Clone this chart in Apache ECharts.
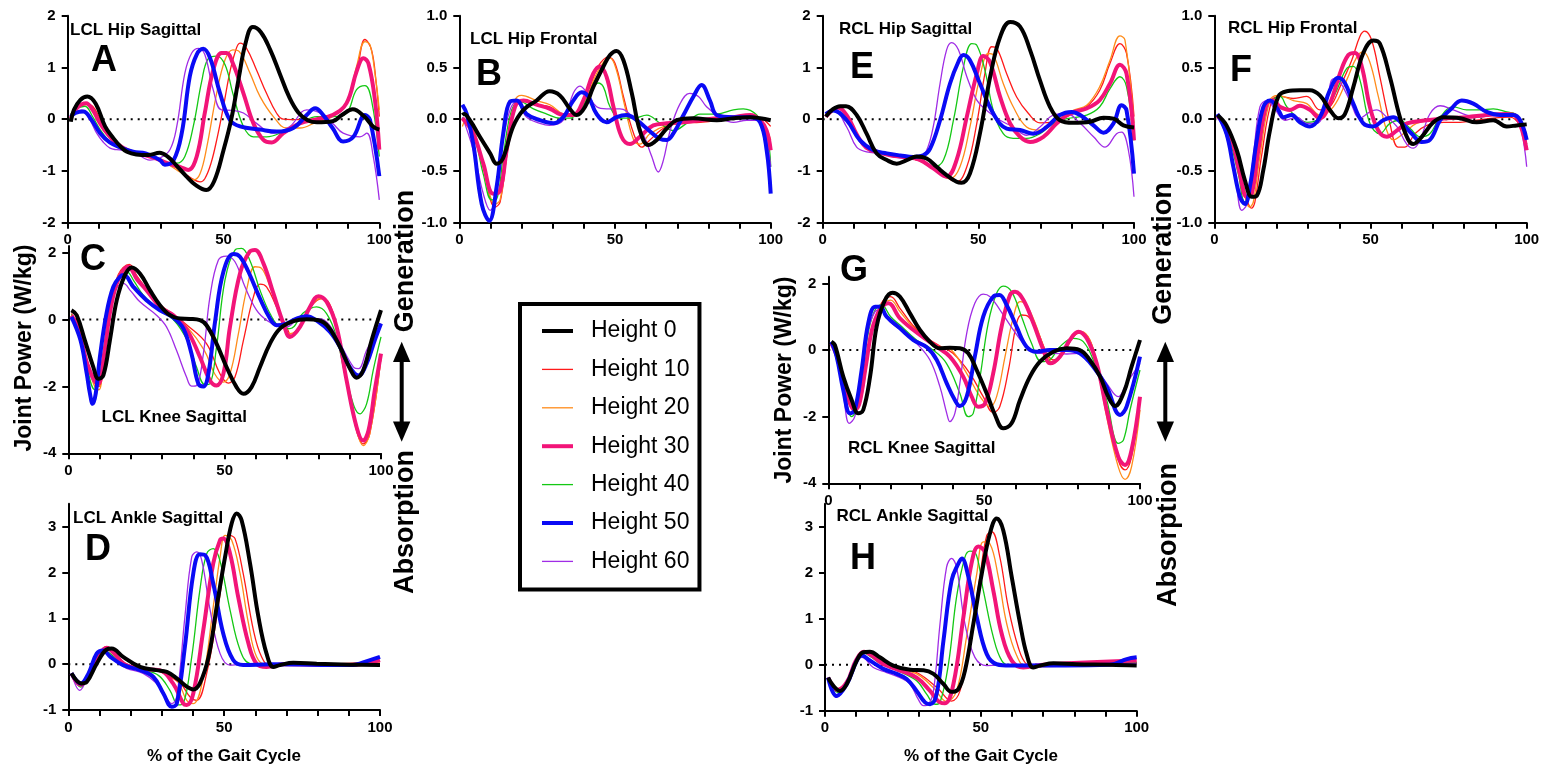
<!DOCTYPE html>
<html>
<head>
<meta charset="utf-8">
<script src="https://cdn.jsdelivr.net/npm/echarts@6/dist/echarts.min.js"></script>
<style>
html,body{margin:0;padding:0;background:#fff;}
#c{width:1547px;height:769px;}
</style>
</head>
<body>
<div id="c"></div>
<script>
// ---------- DATA ----------
const SERIES_NAMES = ['Height 0','Height 10','Height 20','Height 30','Height 40','Height 50','Height 60'];
const X_TICKS = [0,10,20,30,40,50,60,70,80,90,100];
const X_LABELS = [0,50,100];
const Y_TICKS_HIP_SAG = [-2,-1,0,1,2];
const Y_TICKS_HIP_FRONT = [-1,-0.5,0,0.5,1];
const Y_TICKS_KNEE = [-4,-2,0,2];
const Y_TICKS_ANKLE = [-1,0,1,2,3];
const PANEL_TITLES = ['LCL Hip Sagittal','LCL Hip Frontal','LCL Knee Sagittal','LCL Ankle Sagittal','RCL Hip Sagittal','RCL Hip Frontal','RCL Knee Sagittal','RCL Ankle Sagittal'];
const PANEL_LETTERS = ['A','B','C','D','E','F','G','H'];

// Panel A - LCL Hip Sagittal
const A_H0 = [[1,-0.05],[2,0.18],[4,0.37],[6.3,0.44],[9,0.3],[12,-0.14],[14.7,-0.37],[17,-0.53],[19,-0.63],[22,-0.68],[26,-0.69],[29.5,-0.65],[32,-0.72],[35,-0.9],[38,-1.1],[41,-1.27],[44.5,-1.37],[47,-1.2],[50,-0.6],[52.5,0.0],[55,0.83],[57,1.45],[59.4,1.78],[62,1.68],[65,1.34],[68,0.89],[71,0.44],[74,0.13],[77,-0.02],[80,-0.06],[85,-0.04],[88,0.08],[91.5,0.19],[95,0.06],[98,-0.14],[100,-0.2]];
const A_H10 = [[1,0.0],[3,0.2],[6,0.3],[8,0.25],[10,0.05],[13,-0.3],[16,-0.5],[20,-0.62],[24,-0.68],[28,-0.75],[32,-0.85],[36,-0.98],[40,-1.15],[42.5,-1.21],[44,-1.15],[46,-0.85],[48,-0.35],[50,0.25],[52,0.9],[53.5,1.25],[55.3,1.47],[57.4,1.37],[60.6,0.95],[63.8,0.5],[67,0.12],[69.2,0.0],[75,-0.01],[80,0.0],[85,0.08],[89.5,0.31],[92.7,0.89],[95.4,1.54],[97.5,1.34],[99,0.7],[100,0.05]];
const A_H20 = [[1,0.0],[3,0.2],[6,0.28],[8,0.2],[10,0.0],[13,-0.33],[16,-0.52],[20,-0.63],[24,-0.68],[28,-0.76],[32,-0.87],[36,-1.02],[38.5,-1.12],[40.5,-1.17],[42.5,-1.05],[44.6,-0.55],[47.8,0.5],[50.5,1.15],[53,1.34],[55,1.31],[58.5,0.89],[61.7,0.44],[66,0.05],[70.3,-0.17],[74.5,-0.17],[80,-0.05],[85,0.05],[89.5,0.31],[92.7,1.02],[95.4,1.5],[97,1.44],[98.6,0.89],[100,0.18]];
const A_H30 = [[1,0.02],[3,0.22],[5.9,0.31],[8,0.18],[10.4,-0.08],[13,-0.3],[16,-0.48],[20,-0.62],[24,-0.68],[28,-0.75],[32,-0.85],[36,-0.92],[38.7,-0.98],[41.4,-0.72],[44,0.12],[46.7,0.95],[49.4,1.28],[51,1.28],[53,1.08],[56.4,0.5],[59.6,-0.08],[62.8,-0.4],[65.5,-0.45],[69.2,-0.27],[74.5,-0.08],[80,0.0],[85,0.08],[89.5,0.31],[92.7,0.92],[94.9,1.18],[96.5,1.08],[98.6,0.37],[100,-0.59]];
const A_H40 = [[1,0.1],[2.5,0.2],[5.5,0.25],[8,0.05],[10.4,-0.2],[13,-0.4],[15.7,-0.53],[20,-0.63],[24,-0.68],[27.5,-0.75],[31.8,-0.85],[35,-0.85],[37.6,-0.72],[40.3,-0.14],[43,0.73],[45,1.16],[47.8,1.22],[50.5,1.05],[53,0.5],[56.4,-0.14],[59.6,-0.34],[63.8,-0.34],[69.2,-0.24],[74.5,-0.08],[80,0.05],[85.2,0.05],[89.5,0.12],[92.7,0.57],[95.4,0.65],[97.5,0.37],[100,-0.72]];
const A_H50 = [[1,0.05],[2.5,0.12],[5,0.15],[7.5,0.0],[10.4,-0.27],[13.5,-0.45],[17,-0.55],[21,-0.63],[25,-0.66],[29.6,-0.79],[31.2,-0.88],[34,-0.79],[36.6,-0.27],[39.2,0.83],[41.4,1.25],[43.5,1.36],[45.7,1.18],[48.9,0.5],[52,-0.01],[55.3,-0.14],[61.7,-0.2],[67,-0.24],[72.4,-0.17],[76.7,0.08],[79.4,0.21],[82,0.08],[85,-0.17],[88.4,-0.43],[91.7,-0.34],[95.4,0.08],[97,-0.01],[100,-1.1]];
const A_H60 = [[1,0.0],[2,0.12],[4.5,0.18],[7,0.0],[9.3,-0.27],[11.5,-0.45],[13.6,-0.56],[15.7,-0.59],[21,-0.63],[26.4,-0.79],[29.6,-0.75],[32.8,-0.59],[35,-0.14],[37.6,0.89],[39.8,1.28],[42,1.37],[44,1.25],[46.7,0.57],[49.4,0.18],[53,0.17],[56.4,0.12],[60.6,-0.08],[66,-0.27],[71.3,-0.14],[76.7,0.18],[81,0.12],[85,-0.08],[88.4,-0.27],[93.8,-0.34],[96,-0.27],[98,-0.7],[100,-1.56]];

// Panel B - LCL Hip Frontal
const B_H0 = [[1,0.04],[1.5,0.05],[3.4,-0.01],[6.6,-0.17],[9.9,-0.33],[12,-0.43],[14,-0.38],[17.3,-0.07],[20.6,0.09],[24.8,0.18],[29,0.27],[32.3,0.23],[35.5,0.1],[37.7,0.04],[40.4,0.12],[43,0.31],[46.3,0.51],[48.4,0.62],[50.5,0.66],[52.7,0.57],[55.4,0.25],[58,-0.11],[60.7,-0.25],[63.4,-0.2],[66.6,-0.09],[69.8,-0.01],[75,0.01],[82.7,-0.01],[88,0.01],[93.4,0.02],[96.6,0.01],[100,-0.01]];
const B_H10 = [[1,-0.01],[4.5,-0.12],[7.7,-0.46],[11.5,-0.85],[13.1,-0.8],[15.2,-0.36],[17.9,0.12],[20.6,0.18],[24.8,0.14],[29.1,0.12],[33.4,0.04],[36.6,0.04],[41,0.25],[44.6,0.51],[47.9,0.6],[50,0.54],[52.7,0.22],[56,-0.14],[58.6,-0.27],[61.2,-0.2],[66.6,-0.07],[72,-0.04],[77.3,-0.03],[82.7,-0.01],[88,0.02],[93.4,0.04],[97,0.01],[100,-0.07]];
const B_H20 = [[1,-0.07],[2.4,0.0],[4.5,-0.08],[7.7,-0.45],[11.5,-0.82],[13.1,-0.78],[15.2,-0.36],[17.9,0.18],[20,0.23],[24.8,0.18],[29.1,0.14],[33.4,0.05],[36.6,0.04],[40.4,0.18],[43.6,0.41],[46.3,0.55],[48.4,0.59],[50.5,0.47],[53.2,0.12],[56,-0.2],[58,-0.24],[61.2,-0.14],[66.6,-0.06],[72,-0.04],[77.3,-0.01],[82.7,0.01],[88,0.02],[93.4,0.04],[97,-0.01],[100,-0.2]];
const B_H30 = [[1,0.01],[4.5,-0.14],[7.7,-0.43],[10.9,-0.72],[13.1,-0.69],[15.2,-0.3],[17.9,0.12],[20.6,0.18],[24.8,0.14],[29.1,0.1],[33.4,0.04],[36.6,0.04],[39.8,0.18],[43,0.44],[45.2,0.51],[47.3,0.41],[49.5,0.12],[52.1,-0.17],[54.8,-0.24],[58,-0.17],[62.3,-0.06],[66.6,-0.04],[72,-0.03],[77.3,-0.01],[82.7,0.01],[88,0.02],[93.4,0.04],[96.6,-0.01],[98.7,-0.11],[100,-0.3]];
const B_H40 = [[1,0.01],[4.5,-0.14],[7.7,-0.53],[10.4,-0.78],[12,-0.77],[14.1,-0.36],[16.8,0.09],[19.5,0.17],[23.8,0.1],[28.1,0.05],[32.3,0.01],[35.5,0.01],[38.8,0.09],[42,0.25],[44.6,0.35],[46.3,0.31],[48.4,0.12],[51.6,0.01],[56,0.01],[60.2,0.04],[64.5,-0.04],[68.7,-0.11],[73,-0.04],[77.3,0.05],[82.7,0.05],[88,0.09],[91.2,0.1],[95.5,0.04],[98.7,-0.14],[100,-0.46]];
const B_H50 = [[1,0.14],[2.4,0.05],[4.5,-0.24],[7.2,-0.82],[9.6,-0.98],[12,-0.65],[14.1,-0.14],[16.3,0.17],[18.4,0.18],[21.6,0.05],[25.9,-0.01],[30.2,-0.04],[33.4,0.02],[36.6,0.18],[39.3,0.26],[41.4,0.22],[44.1,0.05],[47.3,-0.03],[50.5,0.02],[53.7,0.04],[57,-0.01],[60.2,-0.09],[64.5,-0.19],[66.6,-0.2],[68.7,-0.14],[72,0.04],[75.2,0.22],[77.8,0.33],[80.5,0.18],[82.7,0.04],[88,0.02],[93.4,0.02],[96.6,-0.03],[98.7,-0.3],[100,-0.72]];
const B_H60 = [[1,0.02],[4.5,-0.3],[7.7,-0.72],[9.9,-0.88],[12,-0.72],[14.1,-0.2],[16.3,0.09],[18.4,0.17],[21.6,0.02],[25.9,-0.04],[29,-0.06],[33.4,-0.01],[36.6,0.25],[38.7,0.32],[40.9,0.26],[44.1,0.12],[47.3,0.1],[51.6,0.1],[55.9,0.01],[59,-0.14],[61.8,-0.36],[63.9,-0.51],[65.5,-0.4],[67.7,-0.11],[70.9,0.15],[74,0.25],[76.8,0.22],[79.4,0.12],[83.7,0.02],[88,-0.03],[92.3,-0.01],[96.6,-0.01],[98.7,-0.2],[100,-0.46]];

// Panel C - LCL Knee Sagittal
const C_H0 = [[1,0.28],[2.7,0.13],[5.3,-0.62],[8,-1.42],[9.6,-1.77],[11.2,-1.67],[13.3,-0.62],[15.5,0.58],[18.1,1.33],[20.3,1.56],[22.9,1.38],[26.1,0.88],[29.3,0.43],[32.5,0.13],[35.7,0.03],[38.9,0.02],[42.1,-0.02],[44.2,-0.17],[47.4,-0.72],[50.6,-1.42],[53.8,-2.02],[56,-2.22],[58.6,-2.02],[61.3,-1.42],[64.5,-0.72],[67.7,-0.27],[72,-0.05],[76.2,0.01],[80,-0.02],[83.2,-0.22],[86.9,-0.82],[90.1,-1.47],[92.2,-1.74],[94.3,-1.52],[97,-0.62],[100,0.28]];
const C_H10 = [[1,0.18],[3.2,-0.25],[6,-1.3],[8.7,-1.95],[9.8,-2.0],[11.5,-1.0],[13.5,0.4],[16,1.35],[19.5,1.65],[22,1.3],[25,0.92],[29.3,0.45],[33.6,0.15],[38,-0.17],[44.2,-0.72],[48.5,-1.62],[51.2,-1.9],[53.3,-1.72],[56,-0.62],[59.2,0.68],[61.3,1.06],[63.4,0.98],[66.6,0.38],[69.8,-0.22],[71.5,-0.5],[74.5,-0.12],[77.5,0.38],[81,0.63],[83.5,0.48],[85.8,-0.22],[89,-1.82],[92.2,-3.32],[94.3,-3.72],[96.4,-3.42],[100,-1.12]];
const C_H20 = [[1,0.15],[3.2,-0.3],[6,-1.35],[8.7,-2.05],[9.8,-2.1],[11.5,-1.0],[13.5,0.35],[16,1.3],[19.3,1.6],[22,1.25],[25,0.9],[29.3,0.42],[33.6,0.12],[38,-0.22],[43.5,-0.92],[46.8,-1.62],[49.5,-1.87],[51.7,-1.62],[54.4,-0.42],[57,0.88],[59.7,1.58],[61.8,1.53],[64.5,0.98],[67.7,0.18],[70.9,-0.42],[74.1,-0.22],[77.3,0.38],[80.5,0.63],[83,0.48],[85.8,-0.22],[89,-1.82],[92.2,-3.32],[94.3,-3.77],[96.4,-3.42],[100,-1.12]];
const C_H30 = [[1,0.12],[3.2,-0.25],[6,-1.3],[8.5,-1.85],[9.6,-1.92],[11.5,-1.0],[13.5,0.3],[16,1.2],[19.2,1.58],[22,1.2],[25,0.88],[29.3,0.38],[33.6,0.13],[38,-0.32],[42.1,-1.12],[45.3,-1.82],[47.4,-1.97],[49.6,-1.62],[51.7,-0.22],[54.9,1.38],[58,2.03],[59.7,2.08],[62.4,1.68],[65.6,0.78],[68.8,-0.12],[70.9,-0.52],[74.1,-0.22],[77.3,0.38],[80,0.7],[82.6,0.53],[85.8,-0.22],[89,-1.82],[92.2,-3.22],[94.3,-3.62],[96,-3.32],[98,-2.12],[100,-1.02]];
const C_H40 = [[1,0.15],[3.2,-0.3],[5.9,-1.4],[8.5,-2.1],[9.8,-1.9],[11.5,-0.8],[13.5,0.5],[16,1.2],[18.7,1.43],[21,1.15],[24,0.73],[29.3,0.28],[33.6,0.0],[38,-0.62],[41,-1.42],[43.7,-1.95],[45.3,-1.92],[47.4,-0.82],[50.1,1.18],[53.3,2.08],[55.4,2.13],[58,1.78],[61.3,0.88],[64.5,0.18],[67.7,-0.22],[70.9,-0.27],[75.2,0.2],[79.4,0.38],[82.6,0.18],[85.8,-0.52],[89,-1.82],[93.3,-2.82],[95.4,-2.52],[97.5,-1.52],[100,-0.52]];
const C_H50 = [[1,0.08],[3.9,-0.62],[5.9,-1.62],[6.9,-2.2],[7.8,-2.52],[8.8,-2.2],[10.1,-1.12],[12.2,0.18],[14.4,0.98],[16.5,1.28],[17.8,1.33],[20.8,0.98],[25,0.58],[29.3,0.28],[33.6,0.06],[36.8,-0.27],[39.4,-1.02],[41.6,-1.92],[43.2,-2.0],[44.8,-1.62],[47,-0.02],[49.6,1.43],[52.8,1.96],[54.9,1.88],[57.6,1.43],[61.3,0.63],[64.5,0.03],[66.6,-0.17],[69.8,-0.12],[73,0.03],[76.2,0.1],[80,-0.07],[83.7,-0.37],[86.9,-0.82],[90,-1.42],[92.8,-1.67],[95.4,-1.32],[98,-0.62],[100,-0.12]];
const C_H60 = [[1,0.08],[3.2,-0.32],[5.9,-1.35],[8,-1.85],[9.5,-1.9],[11,-1.3],[13,0.0],[15,0.85],[17.6,1.08],[20,0.85],[22.9,0.53],[28.2,0.13],[31.4,-0.22],[34.6,-0.92],[37.8,-1.72],[39.4,-1.99],[41,-1.97],[43.2,-1.02],[45.3,0.68],[48,1.78],[50.6,1.9],[53.3,1.73],[56.5,0.98],[60.2,0.28],[63.4,-0.02],[66.6,-0.17],[69.8,-0.22],[74,0.03],[78.4,0.03],[82.6,-0.07],[86.9,-0.72],[91.2,-1.42],[92.8,-1.47],[95.4,-0.92],[100,-0.12]];

// Panel D - LCL Ankle Sagittal
const D_H0 = [[1,-0.2],[4.3,-0.42],[5.9,-0.39],[9.1,0.01],[12.3,0.32],[13.9,0.34],[17.6,0.16],[23,-0.06],[28.3,-0.13],[31.6,-0.17],[34.8,-0.31],[38,-0.49],[40.1,-0.55],[42.2,-0.42],[45,0.16],[47.6,1.25],[50.3,2.34],[52.4,3.07],[54,3.29],[55.6,3.14],[58.3,2.2],[61,1.03],[63.6,0.23],[65.8,-0.06],[67.9,-0.02],[72.2,0.03],[79.7,0.01],[90.4,-0.01],[100,-0.02]];
const D_H10 = [[1,-0.2],[4,-0.42],[6.5,-0.2],[9.5,0.2],[12.3,0.38],[14.5,0.28],[18,0.03],[23,-0.08],[29,-0.15],[35.9,-0.42],[39,-0.71],[41.2,-0.79],[44.4,-0.2],[47.6,1.03],[50.3,2.27],[51.9,2.81],[53.5,2.74],[56.1,1.98],[59.4,0.74],[62,0.16],[64.7,-0.02],[100,0.05]];
const D_H20 = [[1,-0.2],[4,-0.45],[6.5,-0.22],[9.5,0.18],[12.3,0.38],[14.5,0.26],[18,0.02],[23,-0.09],[29,-0.15],[34.8,-0.35],[38,-0.79],[40.1,-0.86],[43.3,-0.28],[46.5,1.25],[48.7,2.34],[50.3,2.81],[52.4,2.71],[55.1,1.98],[57.8,0.89],[60.4,0.16],[63.6,-0.02],[100,0.03]];
const D_H30 = [[1,-0.2],[4,-0.45],[6.5,-0.25],[9.5,0.15],[12.3,0.36],[14.5,0.25],[18,0.0],[23,-0.1],[29.3,-0.13],[33.6,-0.42],[36.9,-0.86],[38,-0.89],[40.1,-0.64],[43.3,0.74],[46.5,2.2],[48.7,2.71],[49.7,2.74],[51.9,2.41],[54.5,1.47],[57.8,0.45],[60.4,0.01],[63.6,-0.06],[69,0.0],[90.4,-0.02],[100,0.09]];
const D_H40 = [[1,-0.2],[4,-0.5],[6.5,-0.25],[9.1,0.15],[11.5,0.3],[14,0.2],[18,-0.02],[24,-0.13],[29,-0.25],[32.6,-0.57],[35.3,-0.89],[36.9,-0.86],[39.6,0.16],[42.2,1.61],[44.4,2.41],[46.5,2.52],[48.6,2.27],[51.9,1.18],[55.1,0.31],[58.3,0.01],[63.6,-0.02],[100,0.01]];
const D_H50 = [[1,-0.2],[4,-0.42],[6.5,-0.2],[9.1,0.23],[11.2,0.3],[13.5,0.16],[17.6,-0.02],[23,-0.13],[27.3,-0.28],[30.5,-0.64],[33.2,-0.93],[34.8,-0.86],[37.4,0.38],[40.1,1.98],[42.2,2.4],[43.9,2.38],[46.5,1.76],[49.7,0.67],[52.9,0.09],[56.1,-0.02],[65,0.0],[90.4,-0.02],[96.8,0.09],[100,0.16]];
const D_H60 = [[1,-0.2],[3.7,-0.57],[6.5,-0.2],[9.1,0.23],[11.2,0.27],[14.5,0.09],[18.7,-0.09],[24,-0.2],[28.3,-0.42],[31.6,-0.75],[33.2,-0.86],[34.8,-0.71],[37.4,1.03],[39.6,2.34],[41.2,2.45],[42.8,2.27],[45.5,1.18],[48.7,0.23],[51.9,-0.02],[55,-0.01],[65,0.0],[100,0.01]];

// Panel E - RCL Hip Sagittal
const E_H0 = [[1,0.05],[3,0.18],[5.6,0.25],[7.5,0.25],[10.9,0.08],[14.1,-0.28],[17.3,-0.66],[20.6,-0.79],[23.8,-0.86],[27,-0.79],[30.2,-0.72],[33.4,-0.76],[36.6,-0.92],[39.8,-1.08],[43,-1.21],[44.6,-1.23],[47.3,-1.05],[50.5,-0.28],[53.8,0.82],[57,1.59],[60.2,1.88],[63.4,1.79],[66.6,1.34],[69.8,0.75],[73,0.24],[76.2,-0.02],[80.5,-0.07],[85.9,-0.05],[90.2,0.03],[93.4,0.01],[96.6,-0.12],[100,-0.16]];
const E_H10 = [[1,0.05],[5,0.22],[8,0.05],[11,-0.3],[14,-0.55],[18,-0.64],[22,-0.7],[26,-0.74],[31,-0.8],[37,-1.0],[43,-1.21],[46.3,-0.92],[49.5,-0.08],[52.1,0.88],[54.3,1.4],[55.9,1.37],[59.1,0.88],[62.3,0.43],[66.1,0.11],[69.8,-0.07],[74.1,-0.05],[79.4,0.08],[84.8,0.24],[89,0.56],[92.3,1.08],[95.5,1.46],[97.6,1.27],[100,0.05]];
const E_H20 = [[1,0.05],[5,0.22],[8,0.05],[11,-0.3],[14,-0.55],[18,-0.64],[22,-0.7],[26,-0.74],[31,-0.8],[36,-0.98],[40.9,-1.15],[44.1,-0.92],[47.3,-0.15],[50.5,0.82],[53.2,1.27],[54.8,1.24],[58,0.69],[61.2,0.24],[65.5,-0.15],[69.8,-0.21],[75.2,-0.02],[80.5,0.17],[84.8,0.27],[89,0.63],[92.3,1.14],[95.5,1.61],[97.1,1.53],[100,-0.08]];
const E_H30 = [[1,0.05],[5,0.22],[8,0.05],[11,-0.3],[14,-0.55],[18,-0.64],[22,-0.7],[26,-0.73],[31,-0.78],[35.5,-0.95],[39.8,-1.11],[43,-0.79],[46.3,0.05],[49.5,0.88],[51.6,1.22],[53.7,1.11],[57,0.43],[60.2,-0.08],[63.4,-0.34],[66.6,-0.44],[70.9,-0.34],[75.2,-0.08],[79.4,0.11],[84.8,0.21],[89,0.37],[92.3,0.69],[95.5,1.05],[97.6,0.88],[100,-0.41]];
const E_H40 = [[1,0.1],[5,0.25],[8,0.05],[11,-0.3],[14,-0.55],[18,-0.63],[22,-0.68],[26,-0.72],[31.3,-0.76],[35.5,-0.92],[38.8,-0.79],[42,-0.02],[45.2,1.01],[47.9,1.46],[49.5,1.43],[52.1,0.95],[54.8,0.17],[58,-0.28],[61.2,-0.37],[65.5,-0.37],[69.8,-0.28],[74.1,-0.08],[78.4,0.01],[84.8,0.08],[89,0.24],[92.3,0.59],[95.5,0.82],[97.6,0.63],[100,-0.41]];
const E_H50 = [[1,0.1],[3.4,0.17],[7.7,-0.02],[12,-0.41],[16.3,-0.6],[20.6,-0.66],[24.9,-0.7],[29.1,-0.73],[32.3,-0.7],[34.5,-0.57],[37.7,-0.02],[40.9,0.69],[43.6,1.11],[45.2,1.24],[47.3,1.14],[50.5,0.69],[54.8,0.11],[59.1,-0.18],[63.4,-0.21],[67.7,-0.28],[72,-0.15],[76.2,0.08],[80,0.14],[82.7,0.08],[87,-0.12],[90.2,-0.26],[93.4,-0.08],[96,0.27],[97.6,0.17],[100,-1.05]];
const E_H60 = [[1,0.05],[3.5,0.2],[7.7,-0.15],[10.9,-0.54],[14.1,-0.63],[18.4,-0.66],[22.7,-0.73],[27,-0.76],[31.3,-0.73],[33.4,-0.6],[35.5,-0.15],[37.7,0.69],[39.8,1.34],[41.4,1.48],[43.6,1.34],[46.3,0.82],[49.5,0.37],[52.7,0.17],[57,-0.02],[61.2,-0.15],[65.5,-0.31],[69.8,-0.15],[74.1,0.08],[78.4,0.11],[82.7,-0.08],[87,-0.34],[90.7,-0.54],[94.4,-0.28],[96,-0.25],[98.2,-0.6],[100,-1.5]];

// Panel F - RCL Hip Frontal
const F_H0 = [[1,0.04],[3.9,-0.06],[7.2,-0.3],[9.8,-0.59],[12,-0.75],[13.6,-0.74],[15.7,-0.49],[17.8,-0.11],[20.5,0.22],[23.2,0.27],[27.4,0.28],[30.6,0.28],[33.8,0.23],[37,0.09],[39.7,0.01],[41.8,0.05],[44.5,0.31],[47.7,0.64],[50.9,0.76],[53,0.73],[56.2,0.41],[59.4,0.02],[62.1,-0.2],[63.7,-0.24],[66.4,-0.17],[70.1,-0.03],[73.3,0.02],[78.7,0.01],[84,-0.03],[89.3,-0.01],[93.6,-0.07],[96.8,-0.06],[100,-0.05]];
const F_H10 = [[1,0.03],[5,-0.12],[8.8,-0.58],[12,-0.86],[13,-0.8],[15.1,-0.36],[18.4,0.18],[21,0.22],[25.3,0.2],[29.6,0.22],[33.8,0.09],[37,0.12],[40.2,0.31],[44,0.57],[46.6,0.8],[48.2,0.85],[50.4,0.76],[53,0.41],[56.2,-0.04],[58.9,-0.27],[61,-0.27],[64.2,-0.14],[68,-0.06],[73.3,-0.03],[78.7,-0.03],[84,-0.01],[89.3,0.01],[94.7,0.02],[100,-0.17]];
const F_H20 = [[1,0.03],[5,-0.12],[8.5,-0.55],[11.4,-0.85],[12.5,-0.8],[14.6,-0.36],[17.8,0.18],[20.5,0.23],[25.3,0.18],[29.6,0.15],[33.8,0.04],[38.1,0.12],[42.4,0.38],[45.6,0.6],[47.7,0.65],[49.8,0.55],[52.5,0.22],[55.2,-0.11],[57.3,-0.2],[60.5,-0.14],[64.7,-0.04],[70.1,-0.01],[76.5,0.01],[82.9,0.02],[89.3,0.04],[94.7,0.05],[100,-0.14]];
const F_H30 = [[1,0.03],[5,-0.14],[8.2,-0.53],[10.4,-0.75],[12,-0.72],[14.1,-0.3],[16.8,0.15],[18.9,0.18],[21,0.12],[24.2,0.09],[27.4,0.13],[30.6,0.09],[33.8,0.01],[37,0.15],[40.2,0.44],[42.9,0.62],[45,0.64],[47.2,0.51],[49.8,0.12],[52.5,-0.11],[55.2,-0.17],[58.4,-0.11],[61.6,-0.04],[68,-0.01],[74.4,0.01],[80.8,0.02],[87.2,0.04],[93.6,0.05],[96.8,0.02],[100,-0.3]];
const F_H40 = [[1,0.04],[3.9,-0.1],[7.7,-0.53],[9.8,-0.8],[11.4,-0.75],[13.6,-0.36],[15.7,0.09],[18.4,0.18],[21,0.22],[23.2,0.12],[26.4,0.02],[29.6,-0.03],[32.8,-0.01],[36,0.09],[39.2,0.28],[42.4,0.49],[44.5,0.51],[46.6,0.38],[49.8,-0.04],[53,-0.14],[56.2,-0.04],[59.4,-0.01],[62.7,-0.09],[65.9,-0.17],[69,-0.14],[72.3,0.02],[76.5,0.12],[80.8,0.09],[85,0.09],[89.3,0.1],[93.6,0.07],[96.8,0.04],[100,-0.24]];
const F_H50 = [[1,0.05],[3.9,-0.14],[6.1,-0.46],[8.2,-0.75],[9.8,-0.82],[11.4,-0.65],[13.6,-0.2],[15.7,0.12],[17.8,0.18],[20.5,0.09],[22.1,0.02],[24.8,0.04],[27.4,-0.03],[30.6,-0.07],[33.8,0.02],[37,0.28],[39.7,0.4],[41.8,0.35],[44.5,0.15],[47.7,-0.04],[50.9,-0.07],[54.1,-0.01],[57.3,0.02],[60,-0.04],[63.2,-0.14],[66.4,-0.22],[69,-0.2],[72.3,-0.01],[75.5,0.09],[79.2,0.18],[82.9,0.15],[87.2,0.07],[91.5,0.04],[95.7,0.04],[97.9,-0.01],[100,-0.2]];
const F_H60 = [[1,0.04],[3.9,-0.17],[6.6,-0.53],[8.8,-0.88],[10.4,-0.82],[12.5,-0.36],[14.6,0.12],[16.8,0.18],[19.5,0.09],[22.7,-0.01],[26.4,0.02],[29.6,-0.04],[32.8,-0.04],[36,0.18],[38.1,0.39],[40.2,0.36],[43.4,0.18],[46.6,0.01],[49.8,0.07],[51.9,0.09],[55.2,0.02],[58.4,-0.07],[61.6,-0.24],[63.7,-0.28],[65.9,-0.2],[69,0.05],[72.3,0.13],[76.5,0.09],[80.8,0.04],[85,0.02],[89.3,0.04],[93.6,0.04],[96.8,0.02],[100,-0.46]];

// Panel G - RCL Knee Sagittal
const G_H0 = [[1,0.25],[2.1,0.15],[4.8,-0.8],[7.5,-1.5],[9.6,-1.9],[11.2,-1.8],[13.4,-0.8],[15.5,0.7],[18.2,1.5],[20.6,1.72],[23,1.6],[26.2,1.1],[29.4,0.6],[32.6,0.25],[35.8,0.05],[39,0.07],[42.2,0.05],[44.9,-0.1],[47.6,-0.6],[50.8,-1.3],[53.5,-1.95],[56.1,-2.35],[58.8,-2.2],[61.5,-1.5],[64.7,-0.8],[67.9,-0.35],[72.2,-0.05],[76.5,0.05],[80.7,0.0],[83.9,-0.3],[87.2,-0.8],[89.8,-1.4],[92,-1.68],[94.7,-1.3],[97.3,-0.5],[100,0.3]];
const G_H10 = [[1,0.22],[3,-0.25],[5.5,-1.15],[8.8,-1.75],[10.2,-1.6],[12.2,-0.5],[14.2,0.65],[17,1.4],[20,1.6],[23,1.25],[27,0.75],[31,0.4],[35.8,0.12],[40,-0.1],[45.4,-0.7],[49.7,-1.4],[52.9,-1.88],[55,-1.7],[57.8,-0.6],[60.4,0.8],[62,1.05],[64.2,1.0],[67.4,0.5],[70.1,-0.1],[72.2,-0.3],[75.4,-0.1],[78.6,0.4],[81.3,0.52],[83.9,0.3],[86.1,-0.4],[89.3,-1.9],[93,-3.3],[95.2,-3.6],[97.3,-3.2],[100,-1.5]];
const G_H20 = [[1,0.22],[3,-0.25],[5.5,-1.2],[8.8,-1.8],[10.2,-1.6],[12.2,-0.5],[14.2,0.6],[17,1.3],[20,1.5],[23,1.15],[27,0.7],[31,0.35],[35.8,0.1],[39.5,0.0],[44.4,-0.7],[48.7,-1.4],[51.9,-1.7],[54,-1.4],[56.7,-0.2],[59.4,1.0],[61.5,1.45],[63.6,1.35],[66.8,0.7],[69.5,0.0],[72.2,-0.4],[75.4,-0.1],[78.6,0.4],[81.3,0.55],[83.9,0.3],[86.1,-0.4],[89.3,-2.0],[93,-3.5],[95.2,-3.88],[97.3,-3.5],[100,-1.8]];
const G_H30 = [[1,0.2],[3,-0.25],[5.5,-1.2],[8.6,-1.8],[10,-1.6],[12,-0.5],[14,0.6],[16.5,1.2],[19.3,1.4],[23,0.95],[29.4,0.45],[34.8,0.1],[39,-0.2],[43.3,-0.8],[46,-1.4],[48.1,-1.7],[50.3,-1.6],[52.9,-0.7],[55.6,0.7],[58.3,1.65],[59.9,1.75],[62.6,1.5],[65.8,0.8],[69,0.0],[71.2,-0.4],[74.3,-0.2],[77.5,0.3],[80.2,0.55],[82.9,0.35],[86.1,-0.4],[89.3,-1.8],[93,-3.2],[95.2,-3.45],[97.3,-3.0],[100,-1.4]];
const G_H40 = [[1,0.25],[3,-0.3],[5.3,-1.3],[7.5,-2.0],[9,-1.8],[11,-0.6],[13,0.6],[15,1.2],[17.1,1.35],[20,1.0],[23,0.75],[28.3,0.3],[33.6,0.0],[37.9,-0.4],[42.2,-1.3],[44.9,-2.0],[46.5,-1.9],[48.7,-0.8],[51.3,0.8],[54,1.7],[56.1,1.92],[58.8,1.75],[62,1.0],[65.2,0.2],[68.4,-0.35],[71,-0.3],[74.3,0.1],[78.6,0.35],[81.8,0.25],[85,-0.3],[89.3,-1.5],[93,-2.8],[94.7,-2.7],[96.8,-1.8],[100,-0.6]];
const G_H50 = [[1,0.25],[2.7,-0.2],[4.8,-1.2],[7,-1.9],[8.5,-1.8],[10.7,-0.6],[12.8,0.8],[15,1.3],[16.6,1.3],[18.7,1.0],[23,0.65],[27.3,0.3],[31.6,0.08],[34.8,-0.3],[38,-1.0],[40.6,-1.5],[42.2,-1.68],[44.4,-1.4],[47,-0.2],[49.7,1.0],[52.9,1.6],[54.9,1.65],[57.2,1.35],[60.4,0.7],[63.6,0.1],[66.8,-0.05],[71,0.0],[76.5,0.0],[80.7,-0.1],[85,-0.5],[89.3,-1.1],[93.6,-1.95],[95.7,-1.7],[100,-0.2]];
const G_H60 = [[1,0.25],[2.7,-0.3],[4.8,-1.3],[6.7,-2.2],[8.5,-2.0],[10.7,-0.8],[12.8,0.6],[15,1.15],[16.6,1.2],[19.8,0.85],[24,0.55],[28.3,0.2],[32.6,-0.3],[35.8,-1.1],[38,-1.9],[39,-2.15],[40.6,-1.9],[42.2,-1.0],[44.4,0.5],[47,1.4],[49.7,1.68],[51.9,1.6],[55.1,1.2],[59.4,0.6],[63.6,0.1],[67.9,-0.1],[72.2,-0.1],[76.5,-0.12],[80.7,-0.1],[85,-0.45],[89.3,-1.0],[93,-1.4],[95.7,-1.0],[100,-0.4]];

// Panel H - RCL Ankle Sagittal
const H_H0 = [[1,-0.28],[2.7,-0.46],[4.8,-0.57],[7,-0.42],[10.2,0.09],[12.3,0.27],[14.4,0.28],[17.6,0.16],[21.9,-0.02],[27.3,-0.11],[31.6,-0.12],[34.8,-0.2],[38,-0.42],[40.6,-0.59],[42.8,-0.53],[44.9,-0.13],[47.6,0.89],[50.3,1.98],[52.9,2.85],[55.1,3.18],[57.2,2.92],[59.9,1.91],[62.6,0.89],[64.7,0.23],[66.8,-0.06],[69,-0.02],[73.3,0.03],[80.7,0.01],[91.4,0.0],[100,-0.02]];
const H_H10 = [[1,-0.28],[4,-0.52],[7,-0.36],[10,0.12],[12.5,0.3],[15,0.24],[18.5,0.06],[23,-0.05],[29.4,-0.17],[36,-0.5],[40.6,-0.79],[43.3,-0.57],[46.5,0.52],[49.7,1.91],[51.9,2.81],[53.5,2.89],[56.1,2.34],[58.8,1.25],[62,0.38],[64.7,0.01],[67.9,-0.04],[100,0.05]];
const H_H20 = [[1,-0.28],[4,-0.55],[7,-0.38],[10,0.12],[12.5,0.3],[15,0.22],[18.5,0.04],[23,-0.08],[29.4,-0.2],[34.8,-0.5],[39,-0.8],[42.2,-0.57],[45.4,0.6],[48.7,1.98],[50.8,2.67],[52.9,2.63],[55.6,1.91],[58.3,0.89],[61.5,0.2],[64.7,-0.04],[100,0.03]];
const H_H30 = [[1,-0.28],[4,-0.55],[7,-0.38],[10,0.1],[12.5,0.28],[15,0.2],[18.5,0.02],[23,-0.1],[29.4,-0.28],[33.7,-0.57],[36.9,-0.82],[38.5,-0.84],[41.2,-0.42],[44.4,1.03],[47,2.2],[49.2,2.57],[51.3,2.45],[54,1.61],[56.7,0.67],[59.9,0.09],[63.6,-0.06],[70,0.0],[100,0.09]];
const H_H40 = [[1,-0.28],[4,-0.6],[7,-0.4],[10,0.1],[12,0.27],[14.5,0.18],[18.5,0.0],[23,-0.12],[29.4,-0.35],[32.6,-0.64],[35.3,-0.86],[36.9,-0.82],[39.6,0.01],[42.2,1.47],[44.9,2.34],[46.5,2.47],[48.1,2.45],[50.8,1.61],[54,0.6],[56.7,0.09],[59.4,-0.02],[100,0.05]];
const H_H50 = [[1,-0.28],[3.7,-0.68],[7,-0.42],[10.2,0.09],[11.8,0.2],[14.4,0.09],[18.7,-0.09],[23,-0.2],[26.2,-0.31],[29.4,-0.57],[32.1,-0.82],[33.7,-0.86],[35.8,-0.64],[38,0.52],[40.6,1.83],[42.8,2.2],[43.9,2.31],[46,1.91],[48.7,1.03],[51.9,0.23],[55.1,0.01],[59.4,-0.02],[91.4,0.0],[96.8,0.12],[100,0.16]];
const H_H60 = [[1,-0.28],[3.7,-0.71],[7,-0.42],[10.2,0.12],[11.8,0.16],[15.5,-0.06],[19.8,-0.17],[24.1,-0.28],[27.3,-0.42],[29.9,-0.75],[31.6,-0.89],[33.2,-0.86],[34.8,-0.57],[36.9,0.89],[39,2.12],[40.6,2.31],[42.2,2.12],[44.9,0.89],[48.1,0.16],[51.9,-0.02],[59.4,0.0],[100,0.03]];

// ---------- STYLE / LAYOUT ----------
const FONT = '"Liberation Sans", Arial, Helvetica, sans-serif';
const STYLES = [
  {color:'#000000', width:4},
  {color:'#FF1A1A', width:1.3},
  {color:'#FF8C1A', width:1.3},
  {color:'#F21478', width:4},
  {color:'#14C814', width:1.3},
  {color:'#0A0AF5', width:4},
  {color:'#A02CE6', width:1.3}
];
const DRAW_ORDER = [1,2,4,6,3,5,0];

const PANELS = [
  {data:[A_H0,A_H10,A_H20,A_H30,A_H40,A_H50,A_H60], grid:{left:67.7,top:15.7,width:311.6,height:207}, min:-2,max:2,step:1,ticks:Y_TICKS_HIP_SAG,dec:0},
  {data:[B_H0,B_H10,B_H20,B_H30,B_H40,B_H50,B_H60], grid:{left:459.3,top:15.7,width:311.4,height:207}, min:-1,max:1,step:0.5,ticks:Y_TICKS_HIP_FRONT,dec:1},
  {data:[C_H0,C_H10,C_H20,C_H30,C_H40,C_H50,C_H60], grid:{left:68.3,top:246,width:312.7,height:207.3}, min:-4,max:2.2,step:2,ticks:Y_TICKS_KNEE,dec:0},
  {data:[D_H0,D_H10,D_H20,D_H30,D_H40,D_H50,D_H60], grid:{left:68.3,top:503.8,width:311.7,height:206.2}, min:-1,max:3.5,step:1,ticks:Y_TICKS_ANKLE,dec:0},
  {data:[E_H0,E_H10,E_H20,E_H30,E_H40,E_H50,E_H60], grid:{left:822.7,top:15.7,width:311.3,height:207}, min:-2,max:2,step:1,ticks:Y_TICKS_HIP_SAG,dec:0},
  {data:[F_H0,F_H10,F_H20,F_H30,F_H40,F_H50,F_H60], grid:{left:1214.3,top:15.7,width:312.4,height:207}, min:-1,max:1,step:0.5,ticks:Y_TICKS_HIP_FRONT,dec:1},
  {data:[G_H0,G_H10,G_H20,G_H30,G_H40,G_H50,G_H60], grid:{left:828.3,top:276.7,width:311.7,height:206.6}, min:-4,max:2.2,step:2,ticks:Y_TICKS_KNEE,dec:0},
  {data:[H_H0,H_H10,H_H20,H_H30,H_H40,H_H50,H_H60], grid:{left:825,top:503.7,width:311.7,height:207}, min:-1,max:3.5,step:1,ticks:Y_TICKS_ANKLE,dec:0}
];

const TITLE_POS = [[70,30],[470,39.5],[101.5,417.5],[73,518.5],[839,29.5],[1228,28.5],[848,448.3],[836.5,516]];
const LETTER_POS = [[104,61],[489,75],[93,260],[98,550],[862,68],[1241,71],[854,271],[863,559]];

const grids = [], xAxes = [], yAxes = [], series = [];
const axisLine = {show:true, onZero:false, lineStyle:{color:'#000', width:2}};
const tickStyle = {show:true, inside:false, length:6, lineStyle:{color:'#000', width:2}};
const labelFont = {color:'#000', fontFamily:FONT, fontWeight:'bold', fontSize:15};

PANELS.forEach((p, i) => {
  grids.push(Object.assign({containLabel:false}, p.grid));
  xAxes.push({
    type:'value', gridIndex:i, min:0, max:100, interval:10,
    axisLine:axisLine, splitLine:{show:false},
    axisTick:Object.assign({customValues:X_TICKS}, tickStyle),
    axisLabel:Object.assign({customValues:X_LABELS, margin:10, showMinLabel:true, showMaxLabel:true,
      formatter:v => (X_LABELS.indexOf(Math.round(v)) >= 0 ? String(Math.round(v)) : '')}, labelFont)
  });
  yAxes.push({
    type:'value', gridIndex:i, min:p.min, max:p.max, interval:p.step,
    axisLine:axisLine, splitLine:{show:false},
    axisTick:Object.assign({customValues:p.ticks}, tickStyle),
    axisLabel:Object.assign({customValues:p.ticks, margin:12, showMinLabel:true, showMaxLabel:true,
      formatter:v => {
        const ok = p.ticks.some(t => Math.abs(t - v) < 1e-6);
        if (!ok) return '';
        return p.dec ? v.toFixed(1) : String(Math.round(v));
      }}, labelFont)
  });
  // dotted zero line
  series.push({
    type:'line', xAxisIndex:i, yAxisIndex:i, data:[[0,0],[100,0]],
    symbol:'none', silent:true, z:1,
    lineStyle:{color:'#000', width:2, type:[2,5]}, tooltip:{show:false}
  });
  DRAW_ORDER.forEach((k, n) => {
    series.push({
      name:SERIES_NAMES[k], type:'line', xAxisIndex:i, yAxisIndex:i,
      data:p.data[k], symbol:'none', smooth:0.4, z:2 + n,
      lineStyle:{color:STYLES[k].color, width:STYLES[k].width},
      itemStyle:{color:STYLES[k].color}
    });
  });
});

const graphics = [];
function txt(x, y, text, size, opts) {
  opts = opts || {};
  graphics.push({
    type:'text', x:x, y:y, rotation:opts.rot || 0, silent:true,
    style:{
      text:text, fill:'#000', fontFamily:FONT, fontWeight:opts.weight || 'bold', fontSize:size,
      align:opts.align || 'center', verticalAlign:'middle',
      textAlign:opts.align || 'center', textVerticalAlign:'middle'
    }
  });
}
PANEL_TITLES.forEach((t, i) => txt(TITLE_POS[i][0], TITLE_POS[i][1], t, 17, {align:'left'}));
PANEL_LETTERS.forEach((t, i) => txt(LETTER_POS[i][0], LETTER_POS[i][1], t, 36));
txt(224, 756.5, '% of the Gait Cycle', 17);
txt(981, 756.5, '% of the Gait Cycle', 17);
txt(25, 348, 'Joint Power (W/kg)', 23, {rot:Math.PI/2});
txt(785, 380, 'Joint Power (W/kg)', 23, {rot:Math.PI/2});
txt(406, 261, 'Generation', 27, {rot:Math.PI/2});
txt(405.5, 522, 'Absorption', 27, {rot:Math.PI/2});
txt(1164, 253.5, 'Generation', 27, {rot:Math.PI/2});
txt(1169, 535, 'Absorption', 27, {rot:Math.PI/2});

function arrow(x) {
  graphics.push({type:'line', silent:true, shape:{x1:x, y1:358, x2:x, y2:426}, style:{stroke:'#000', lineWidth:4}});
  graphics.push({type:'polygon', silent:true, shape:{points:[[x,341.7],[x-8.7,362],[x+8.7,362]]}, style:{fill:'#000'}});
  graphics.push({type:'polygon', silent:true, shape:{points:[[x,441.7],[x-8.7,421.5],[x+8.7,421.5]]}, style:{fill:'#000'}});
}
arrow(401.7);
arrow(1165.3);

const chart = echarts.init(document.getElementById('c'), null, {renderer:'canvas'});
chart.setOption({
  animation:false,
  backgroundColor:'#fff',
  grid:grids, xAxis:xAxes, yAxis:yAxes, series:series,
  legend:{
    data:SERIES_NAMES, orient:'vertical', left:520, top:304,
    padding:[15, 10, 16, 20], itemGap:14.4, itemWidth:31, itemHeight:14,
    borderColor:'#000', borderWidth:4, backgroundColor:'#fff',
    selectedMode:false,
    lineStyle:{width:'inherit'},
    itemStyle:{opacity:0, borderWidth:0},
    textStyle:{color:'#000', fontFamily:FONT, fontSize:23, lineHeight:24, padding:[0,0,0,13]}
  },
  graphic:graphics
});
</script>
</body>
</html>
